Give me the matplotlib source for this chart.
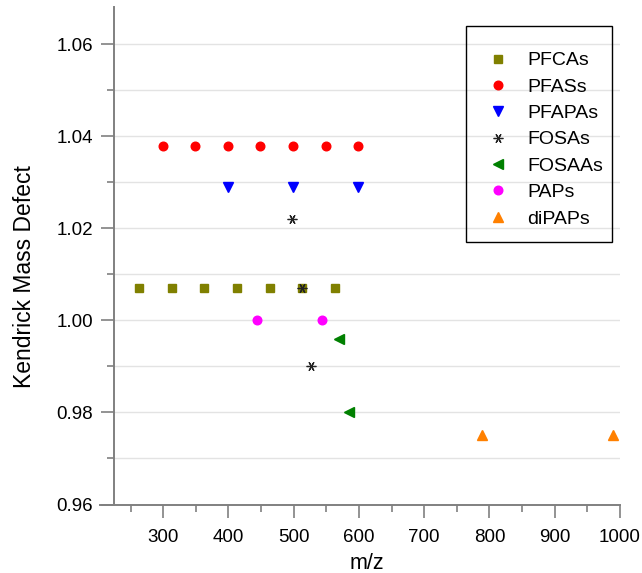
import numpy as np
import matplotlib
matplotlib.use('Agg')
import matplotlib.pyplot as plt
from matplotlib.patches import Rectangle

plt.rcParams['font.family'] = ['Liberation Sans', 'DejaVu Sans']

# m/z and Kendrick mass defect for each compound class
pfcas_mz = [263, 313, 363, 413, 463, 513, 563]
pfcas_kmd = [1.007, 1.007, 1.007, 1.007, 1.007, 1.007, 1.007]
pfass_mz = [299, 349, 399, 449, 499, 549, 599]
pfass_kmd = [1.038, 1.038, 1.038, 1.038, 1.038, 1.038, 1.038]
pfapas_mz = [399, 499, 599]
pfapas_kmd = [1.029, 1.029, 1.029]
fosas_mz = [498, 512, 526]
fosas_kmd = [1.022, 1.007, 0.990]
fosaas_mz = [570, 584]
fosaas_kmd = [0.996, 0.980]
paps_mz = [443, 543]
paps_kmd = [1.000, 1.000]
dipaps_mz = [789, 989]
dipaps_kmd = [0.975, 0.975]

W, H = 642, 573
fig = plt.figure(figsize=(W / 100, H / 100), dpi=100)
ax = fig.add_axes([114.3 / W, 1 - 504.5 / H, (620 - 114.3) / W, (504.5 - 7) / H])

ax.plot(pfcas_mz, pfcas_kmd, ls='none', marker='s', ms=5.8, color='#808000', label='PFCAs')
ax.plot(pfass_mz, pfass_kmd, ls='none', marker='o', ms=6.2, color='#ff0000', label='PFASs')
ax.plot(pfapas_mz, pfapas_kmd, ls='none', marker='v', ms=7.2, color='#0000ff', label='PFAPAs')
ax.plot(fosas_mz, fosas_kmd, ls='none', marker=(6, 2, 90), ms=7, mew=0.9, color='#222222', label='FOSAs')
ax.plot(fosaas_mz, fosaas_kmd, ls='none', marker='<', ms=7.2, color='#008000', label='FOSAAs')
ax.plot(paps_mz, paps_kmd, ls='none', marker='o', ms=6.2, color='#ff00ff', label='PAPs')
ax.plot(dipaps_mz, dipaps_kmd, ls='none', marker='^', ms=7.2, color='#ff8000', label='diPAPs')

ax.set_xlim(225, 1000)
ax.set_ylim(0.96, 1.0681)
ax.set_xticks(np.arange(300, 1001, 100))
ax.set_xticks(np.arange(250, 1000, 100), minor=True)
ax.set_yticks([0.96, 0.98, 1.00, 1.02, 1.04, 1.06])
ax.set_yticklabels(['0.96', '0.98', '1.00', '1.02', '1.04', '1.06'])
ax.set_yticks([0.97, 0.99, 1.01, 1.03, 1.05], minor=True)

for y in np.arange(0.97, 1.065, 0.01):
    ax.axhline(y, color='#e3e3e3', lw=1.0, zorder=0)

for s in ['top', 'right']:
    ax.spines[s].set_visible(False)
for s in ['left', 'bottom']:
    ax.spines[s].set_color('#808080')
    ax.spines[s].set_linewidth(1.4)
ax.spines['bottom'].set_bounds(203, 1000)

ax.tick_params(which='major', direction='out', length=9.5, width=1.2, color='#808080',
               labelsize=13.5)
ax.tick_params(which='minor', direction='out', length=5, width=1.2, color='#808080')
ax.tick_params(axis='x', which='major', pad=8.5)
ax.tick_params(axis='y', which='major', pad=6)

ax.set_xlabel('m/z', fontsize=15.5, labelpad=5)
ax.set_ylabel('Kendrick Mass Defect', fontsize=16.5)
ax.yaxis.set_label_coords(-0.155, 0.459)

leg = ax.legend(loc='upper left', bbox_to_anchor=(465.7 / W, 1 - 42 / H),
                bbox_transform=fig.transFigure, frameon=False, fontsize=14,
                borderaxespad=0, borderpad=0.5, handlelength=2.36, handletextpad=0.31,
                labelspacing=0.45, numpoints=1)

fig.patches.append(Rectangle((465.7 / W, 1 - 241.7 / H), (611.7 - 465.7) / W, (241.7 - 26) / H,
                             transform=fig.transFigure, fill=False, ec='black', lw=1.0))

fig.savefig('out.png', dpi=100)
